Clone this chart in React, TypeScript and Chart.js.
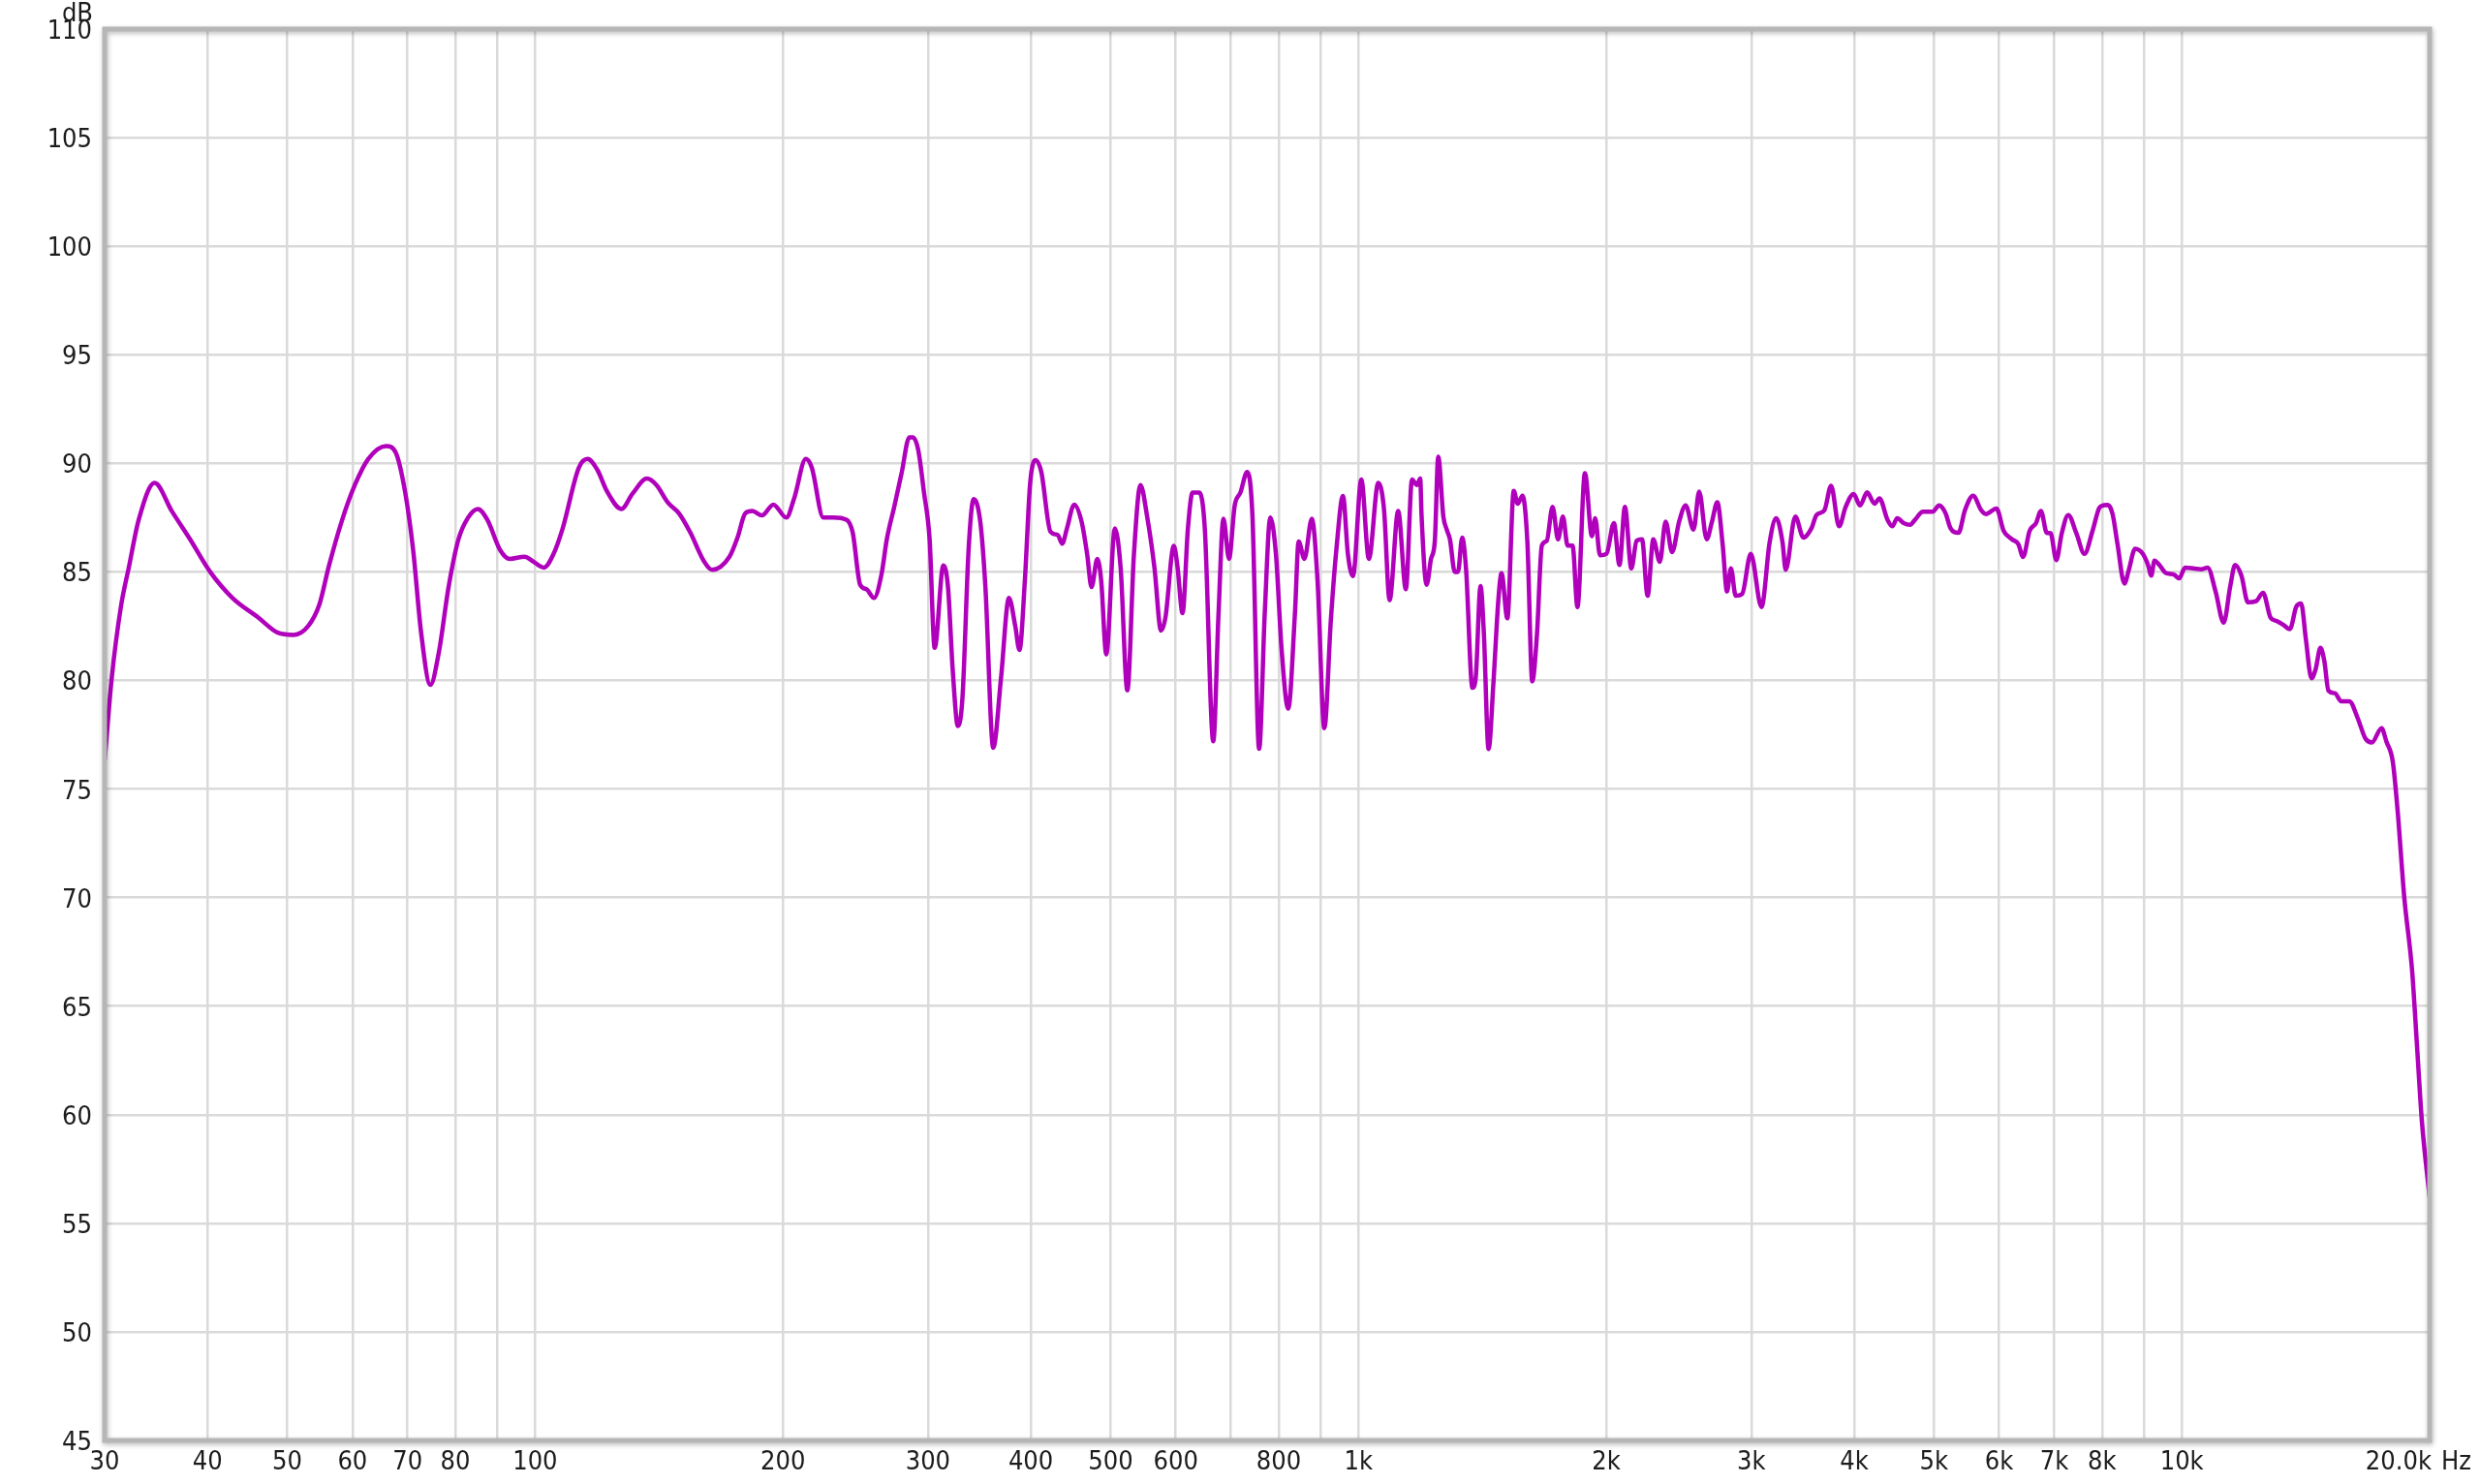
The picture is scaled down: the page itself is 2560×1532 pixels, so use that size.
import React, { useEffect, useRef } from "react";
import { Chart, registerables } from "chart.js";

Chart.register(...registerables);

// Frequency (Hz) of each measured point
const freqHz = [
  30, 30.6, 31.4, 32.1, 33.0, 34.5, 36.2, 38.1, 40.3, 42.9, 46.1, 48.7, 50.9, 53.0, 54.7, 56.2, 58.3, 60.4, 62.7, 65.9,
  67.7, 69.5, 71.1, 72.7, 74.6, 76.4, 78.5, 80.7, 82.9, 85.2, 87.5, 90.7, 93.2, 97.1, 99.3, 102.5, 105.2, 108, 113, 115.8,
  119.0, 122.3, 127.3, 131.3, 136.7, 140.4, 144.9, 149.5, 154.4, 160.3, 164.0, 172.2, 176.2, 180.0, 183.6, 188.6, 194.7, 201.9, 206.4, 213.2,
  216.8, 223.9, 230.1, 238.8, 243.1, 248.2, 252.6, 258, 263.5, 267.4, 273, 278.7, 284.8, 287.6, 292, 296.7, 301.4, 305.7, 313.2, 317.3,
  321.5, 326.2, 330.4, 336.2, 340.9, 347.3, 352.3, 360.1, 368, 376.3, 383, 387.5, 393.4, 399.3, 405.6, 411.9, 422.6, 431.3, 436.7, 442.5,
  451.7, 461.1, 468.3, 474, 481.8, 487, 494, 506, 514.2, 524, 533.7, 543.6, 553.5, 565.2, 575.7, 582.9, 596.7, 603, 611.4, 620.7,
  628.8, 640.8, 650.7, 666.3, 676.2, 685.5, 696.3, 707.4, 718.8, 732.6, 743.4, 757.5, 769.5, 781.5, 794, 806.7, 821.7, 837.3, 846, 859.8,
  877.8, 891.9, 909, 925.8, 940.5, 957.6, 971.1, 984.9, 1008, 1029.6, 1057, 1074, 1091, 1117.5, 1141.8, 1161.6, 1177.8, 1188.6, 1193, 1210,
  1225, 1238, 1250, 1268, 1280, 1291.6, 1309, 1321, 1336.5, 1351, 1375.5, 1388, 1407, 1420, 1439, 1459, 1478.7, 1492, 1516.5, 1544,
  1561, 1582, 1604, 1626, 1648, 1670, 1693, 1721, 1747.5, 1771.5, 1795, 1820, 1845, 1884, 1921, 1939, 1965, 2001, 2043, 2075,
  2107, 2145, 2177, 2210, 2245, 2281, 2323, 2361, 2404, 2452, 2497, 2553, 2593, 2648, 2688, 2728, 2770, 2803, 2834, 2872,
  2924, 2996, 3087, 3158, 3216, 3274, 3303, 3393, 3471, 3551, 3600, 3681, 3750, 3835, 3906, 3994, 4067, 4148, 4235, 4293,
  4391, 4451, 4511, 4594, 4678, 4742, 4848, 4982, 5073, 5165, 5236, 5356, 5453, 5580, 5706, 5783, 5955, 6078, 6219, 6330,
  6416, 6533, 6653, 6744, 6855, 6929, 7041, 7149, 7280, 7446, 7617, 7790, 7933, 7986, 8131, 8241, 8353, 8519, 8621, 8777,
  8976, 9099, 9183, 9265, 9392, 9563, 9779, 9929, 10093, 10369, 10557, 10751, 10993, 11244, 11451, 11607, 11815, 12033, 12307, 12553,
  12816, 13051, 13287, 13527, 13775, 13962, 14152, 14372, 14541, 14739, 14899, 15070, 15347, 15623, 15977, 16342, 16716, 17016, 17484, 17722,
  18042, 18289, 18627, 19047, 19308, 19572, 20000,
];

// Level (dB) at each frequency above
const levelDb = [
  76.3, 80.1, 83.4, 85.2, 87.4, 89.1, 87.8, 86.5, 85.0, 83.8, 82.9, 82.2, 82.1, 82.5, 83.5, 85.3, 87.4, 89.0, 90.2, 90.8,
  90.5, 88.7, 86.0, 82.2, 79.8, 81.3, 84.3, 86.5, 87.5, 87.9, 87.4, 86.0, 85.6, 85.7, 85.5, 85.2, 85.8, 87.0, 89.8, 90.2,
  89.7, 88.7, 87.9, 88.6, 89.3, 89.0, 88.2, 87.7, 86.8, 85.5, 85.1, 85.7, 86.6, 87.7, 87.8, 87.6, 88.1, 87.5, 88.4, 90.2,
  89.8, 87.5, 87.5, 87.4, 86.8, 84.4, 84.2, 83.8, 84.9, 86.5, 88.0, 89.55, 91.2, 91.2, 90.6, 88.65, 86.5, 81.5, 85.3, 84.3,
  80.5, 77.9, 79.2, 86.1, 88.35, 87.3, 84.3, 76.9, 80.1, 83.8, 82.5, 81.4, 84.6, 89.1, 90.15, 89.6, 86.85, 86.7, 86.3, 87.0,
  88.1, 87.3, 85.8, 84.3, 85.6, 84.6, 81.2, 87.0, 85.2, 79.55, 85.8, 89.0, 87.6, 85.2, 82.3, 82.9, 86.2, 85.2, 83.1, 87.0,
  88.65, 88.65, 87.0, 77.2, 83.1, 87.45, 85.6, 88.05, 88.65, 89.6, 87.6, 76.85, 83.1, 87.5, 85.8, 81.4, 78.7, 83.1, 86.4, 85.6,
  87.45, 84.6, 77.8, 82.8, 86.1, 88.5, 85.8, 84.8, 89.25, 85.6, 89.1, 87.9, 83.7, 87.8, 84.2, 89.25, 89.0, 89.3, 87.6, 84.4,
  85.6, 86.4, 90.3, 87.55, 86.95, 86.5, 85.0, 85.0, 86.58, 85.16, 79.66, 80.1, 84.35, 82.2, 76.84, 79.96, 83.68, 84.94, 82.86, 88.73,
  88.14, 88.51, 86.36, 79.96, 82.2, 86.21, 86.43, 87.99, 86.5, 87.55, 86.21, 86.21, 83.38, 89.55, 86.65, 87.47, 85.76, 85.83, 87.25, 85.32,
  87.99, 85.16, 86.43, 86.5, 83.9, 86.5, 85.46, 87.32, 85.91, 87.32, 88.06, 86.95, 88.7, 86.5, 87.32, 88.21, 86.21, 84.1, 85.16, 83.9,
  83.98, 85.83, 83.38, 86.36, 87.47, 86.36, 85.09, 87.55, 86.58, 87.02, 87.62, 87.84, 88.96, 87.1, 87.99, 88.59, 88.06, 88.66, 88.14, 88.39,
  87.4, 87.1, 87.47, 87.25, 87.17, 87.4, 87.77, 87.77, 88.06, 87.7, 87.02, 86.8, 87.84, 88.51, 87.84, 87.66, 87.92, 86.88, 86.5, 86.28,
  85.69, 86.88, 87.25, 87.81, 86.8, 86.78, 85.54, 86.78, 87.62, 86.78, 85.83, 86.88, 87.92, 88.03, 88.08, 87.66, 86.3, 84.46, 85.07, 86.06,
  85.81, 85.32, 84.83, 85.52, 85.32, 84.95, 84.88, 84.7, 85.2, 85.15, 85.12, 85.2, 84.09, 82.66, 84.33, 85.32, 84.83, 83.6, 83.65, 84.04,
  82.9, 82.73, 82.56, 82.36, 83.4, 83.55, 81.87, 80.1, 80.52, 81.5, 80.89, 79.53, 79.41, 79.04, 79.04, 78.3, 77.32, 77.14, 77.8, 77.19,
  76.26, 73.99, 70.05, 66.6, 63.15, 59.7, 56.2,
];

const yTickValues = [45, 50, 55, 60, 65, 70, 75, 80, 85, 90, 95, 100, 105, 110];
const xGridHz = [30, 40, 50, 60, 70, 80, 90, 100, 200, 300, 400, 500, 600, 700, 800, 900, 1000, 2000, 3000, 4000, 5000, 6000, 7000, 8000, 9000, 10000, 20000];
const xLabelHz = [30, 40, 50, 60, 70, 80, 100, 200, 300, 400, 500, 600, 800, 1000, 2000, 3000, 4000, 5000, 6000, 7000, 8000, 10000];
const xLabelText = ["30", "40", "50", "60", "70", "80", "100", "200", "300", "400", "500", "600", "800", "1k", "2k", "3k", "4k", "5k", "6k", "7k", "8k", "10k"];
const xEndHz = 20000;
const xEndLabel = "20.0k";
const xUnit = "Hz";
const yUnit = "dB";

const FONT_FAMILY = "'DejaVu Sans Condensed', 'DejaVu Sans', sans-serif";
const FONT_SIZE = 27;
const TEXT_COLOR = "#1c1c1c";
const GRID_COLOR = "#dadada";
const LINE_COLOR = "#b000bb";

const overlayPlugin = {
  id: "overlay",
  afterDraw(chart: any) {
    const { ctx, chartArea } = chart;
    const xs = chart.scales.x;
    const { left, right, top, bottom } = chartArea;
    ctx.save();
    ctx.shadowColor = "rgba(0,0,0,0.28)";
    ctx.shadowBlur = 5;
    ctx.shadowOffsetX = 1;
    ctx.shadowOffsetY = 2;
    ctx.strokeStyle = "#b6b6b6";
    ctx.lineWidth = 5;
    ctx.strokeRect(left, top, right - left, bottom - top);
    ctx.restore();

    ctx.save();
    ctx.font = `${FONT_SIZE}px ${FONT_FAMILY}`;
    ctx.fillStyle = TEXT_COLOR;
    ctx.textBaseline = "middle";
    const ly = bottom + 23;
    ctx.textAlign = "center";
    xLabelHz.forEach((f, i) => {
      ctx.fillText(xLabelText[i], xs.getPixelForValue(f), ly);
    });
    const ex = xs.getPixelForValue(xEndHz);
    ctx.textAlign = "right";
    ctx.fillText(xEndLabel, ex + 2, ly);
    ctx.textAlign = "left";
    ctx.fillText(xUnit, ex + 12, ly);
    ctx.textAlign = "right";
    ctx.fillText(yUnit, left - 12, top - 15);
    ctx.restore();
  },
};

export default function App() {
  const canvasRef = useRef<HTMLCanvasElement | null>(null);

  useEffect(() => {
    const canvas = canvasRef.current;
    if (!canvas) return;
    const points = freqHz.map((f, i) => ({ x: f, y: levelDb[i] }));
    const chart = new Chart(canvas, {
      type: "line",
      data: {
        datasets: [
          {
            data: points,
            borderColor: LINE_COLOR,
            borderWidth: 4.5,
            pointRadius: 0,
            fill: false,
            cubicInterpolationMode: "monotone",
          },
        ],
      },
      options: {
        responsive: false,
        animation: false,
        devicePixelRatio: 1,
        layout: { padding: { top: 30, right: 52, bottom: 0, left: 0 } },
        plugins: { legend: { display: false }, tooltip: { enabled: false } },
        scales: {
          x: {
            type: "logarithmic",
            min: 30,
            max: 20000,
            afterBuildTicks: (scale: any) => {
              scale.ticks = xGridHz.map((v) => ({ value: v }));
            },
            afterFit: (scale: any) => {
              scale.height = 45;
            },
            ticks: { display: false },
            grid: { color: GRID_COLOR, lineWidth: 2.5, drawTicks: false },
            border: { display: false },
          },
          y: {
            type: "linear",
            min: 45,
            max: 110,
            afterBuildTicks: (scale: any) => {
              scale.ticks = yTickValues.map((v) => ({ value: v }));
            },
            afterFit: (scale: any) => {
              scale.width = 108;
            },
            ticks: {
              font: { family: FONT_FAMILY, size: FONT_SIZE },
              color: TEXT_COLOR,
              padding: 13,
              labelOffset: 3,
              callback: (v: any) => String(v),
            },
            grid: { color: GRID_COLOR, lineWidth: 2.5, drawTicks: false },
            border: { display: false },
          },
        },
      } as any,
      plugins: [overlayPlugin],
    });
    return () => chart.destroy();
  }, []);

  return (
    <div style={{ position: "absolute", left: 0, top: 0, width: 2560, height: 1532, background: "#ffffff" }}>
      <canvas ref={canvasRef} width={2560} height={1532} style={{ display: "block", width: 2560, height: 1532 }} />
    </div>
  );
}
